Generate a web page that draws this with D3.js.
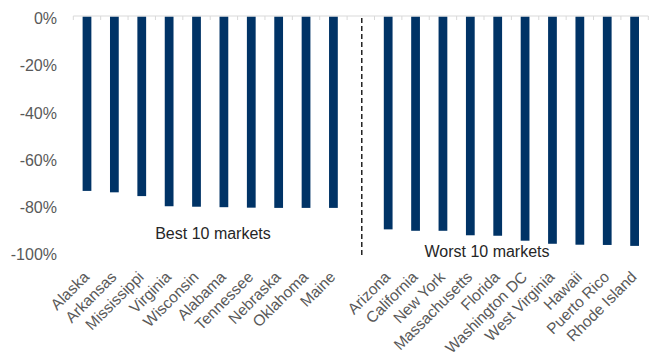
<!DOCTYPE html>
<html>
<head>
<meta charset="utf-8">
<script src="https://cdn.jsdelivr.net/npm/d3@7"></script>
<style>
  body { margin: 0; background: #fff; }
  text { font-family: "Liberation Sans", Arial, sans-serif; }
</style>
</head>
<body>
<div id="chart"></div>
<script>
// data (percent change)
const bestMarkets = ["Alaska", "Arkansas", "Mississippi", "Virginia", "Wisconsin",
  "Alabama", "Tennessee", "Nebraska", "Oklahoma", "Maine"];
const bestValues = [-73.9, -74.5, -76.1, -80.4, -80.6, -80.8, -81.0, -81.1, -81.1, -81.1];

const worstMarkets = ["Arizona", "California", "New York", "Massachusetts", "Florida",
  "Washington DC", "West Virginia", "Hawaii", "Puerto Rico", "Rhode Island"];
const worstValues = [-90.2, -90.8, -90.8, -92.7, -92.9, -95.0, -96.3, -96.7, -96.8, -97.2];

const yTicks = [0, -20, -40, -60, -80, -100];
const groupLabels = ["Best 10 markets", "Worst 10 markets"];

const width = 653, height = 360;
const gapKey = "__gap__";

const bars = [
  ...bestMarkets.map((name, i) => ({ name, value: bestValues[i] })),
  ...worstMarkets.map((name, i) => ({ name, value: worstValues[i] }))
];
const domain = [...bestMarkets, gapKey, ...worstMarkets];

const svg = d3.select("#chart").append("svg")
  .attr("width", width)
  .attr("height", height);

const x = d3.scaleBand()
  .domain(domain)
  .range([73.3, 648.3])
  .paddingInner(0.68)
  .paddingOuter(0.34);

const y = d3.scaleLinear()
  .domain([0, -100])
  .range([16.5, 252.5]);

const center = d => x(d) + x.bandwidth() / 2;

// y axis labels (no line)
svg.append("g")
  .selectAll("text")
  .data(yTicks)
  .join("text")
  .attr("x", 57)
  .attr("y", d => y(d) + 2)
  .attr("dy", "0.35em")
  .attr("text-anchor", "end")
  .attr("font-size", 16)
  .attr("fill", "#595959")
  .text(d => d + "%");

// bars
svg.append("g")
  .selectAll("rect")
  .data(bars)
  .join("rect")
  .attr("x", d => x(d.name))
  .attr("y", y(0))
  .attr("width", x.bandwidth())
  .attr("height", d => y(d.value) - y(0))
  .attr("fill", "#003366");

// x axis line at 0 with ticks at band boundaries
const step = x.step();
const x0 = x.range()[0];
const boundaries = d3.range(domain.length + 1).map(i => x0 + i * step);
const axis = svg.append("g");
axis.append("line")
  .attr("x1", x0).attr("x2", x.range()[1])
  .attr("y1", 16).attr("y2", 16)
  .attr("stroke", "#d9d9d9");
axis.selectAll("line.tick")
  .data(boundaries)
  .join("line")
  .attr("class", "tick")
  .attr("x1", d => d).attr("x2", d => d)
  .attr("y1", 16).attr("y2", 20)
  .attr("stroke", "#d9d9d9");

// category labels
svg.append("g")
  .selectAll("text")
  .data(bars)
  .join("text")
  .attr("transform", d => `translate(${center(d.name) + 3},278) rotate(-45)`)
  .attr("text-anchor", "end")
  .attr("font-size", 15.5)
  .attr("fill", "#595959")
  .text(d => d.name);

// divider between groups
svg.append("line")
  .attr("x1", center(gapKey) + 1).attr("x2", center(gapKey) + 1)
  .attr("y1", 18).attr("y2", 258)
  .attr("stroke", "#000")
  .attr("stroke-width", 1.3)
  .attr("stroke-dasharray", "5,3");

// group annotations
svg.append("text")
  .attr("x", 213).attr("y", 233)
  .attr("dy", "0.35em")
  .attr("text-anchor", "middle")
  .attr("font-size", 16)
  .attr("fill", "#262626")
  .text(groupLabels[0]);

svg.append("text")
  .attr("x", 487).attr("y", 251)
  .attr("dy", "0.35em")
  .attr("text-anchor", "middle")
  .attr("font-size", 16)
  .attr("fill", "#262626")
  .text(groupLabels[1]);
</script>
</body>
</html>
